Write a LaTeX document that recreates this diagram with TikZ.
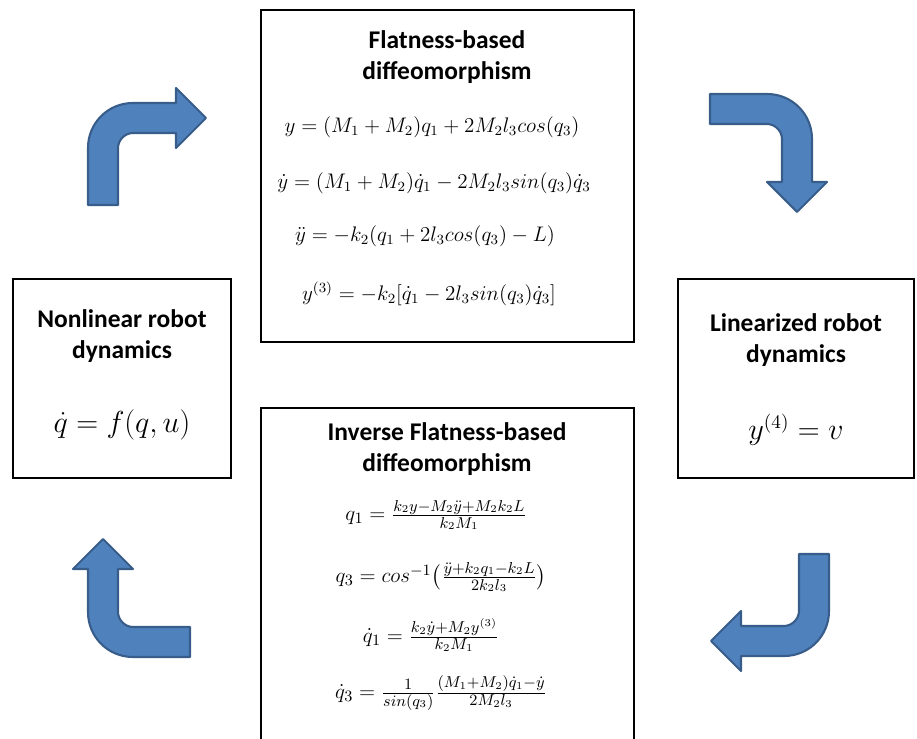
\documentclass[tikz,border=0pt]{standalone}
\usepackage{amsmath}
\usepackage{fontspec}
\setsansfont{Carlito}
\usepackage{tikz}
\usetikzlibrary{positioning}

\definecolor{arrowblue}{HTML}{4F81BD}
\definecolor{arrowedge}{HTML}{385D8A}

\tikzset{
    box/.style={draw, line width=1pt, inner sep=0pt},
    heading/.style={font=\fontsize{14.5}{17.5}\selectfont\sffamily\bfseries, align=center},
    formula/.style={font=\fontsize{11.5}{13}\selectfont},
    invformula/.style={font=\fontsize{12.5}{14}\selectfont},
    bigformula/.style={font=\fontsize{16}{19}\selectfont},
    turnarrow/.style={fill=arrowblue, draw=arrowedge, line width=1.2pt, line join=round},
    bentarrow/.pic={
        \draw[turnarrow] (0,102) -- (0,45) .. controls (0,20) and (20,0) .. (45,0)
            -- (88,0) -- (88,-15) -- (118,15) -- (88,45) -- (88,30)
            -- (45,30) .. controls (37,30) and (30,37) .. (30,45) -- (30,102) -- cycle;
    }
}

\begin{document}
\begin{tikzpicture}[x=0.02cm, y=-0.02cm]
    \useasboundingbox (0,0) rectangle (917,739);

    % the four boxes
    \node[box, minimum width=7.46cm, minimum height=6.64cm] (flat) at (447.5,176) {};
    \node[box, minimum width=7.46cm, minimum height=7.24cm] (inverse) at (447.5,589) {};
    \node[box, minimum width=4.36cm, minimum height=3.98cm] (nonlin) at (122,378.5) {};
    \node[box, minimum width=4.72cm, minimum height=3.98cm] (lin) at (796,378.5) {};

    % flatness-based diffeomorphism
    \node[heading] (flattitle) at (447,57) {Flatness-based\\diffeomorphism};
    \node[formula] (y0) at (432,127) {$y = (M_1 + M_2)q_1 + 2M_2l_3cos(q_3)$};
    \node[formula] (y1) at (434,183) {$\dot{y} = (M_1 + M_2)\dot{q}_1 - 2M_2l_3sin(q_3)\dot{q}_3$};
    \node[formula] (y2) at (425,236) {$\ddot{y} = -k_2(q_1 + 2l_3cos(q_3) - L)$};
    \node[formula] (y3) at (429,294) {$y^{(3)} = -k_2[\dot{q}_1 - 2l_3sin(q_3)\dot{q}_3]$};

    % inverse diffeomorphism
    \node[heading] (invtitle) at (447,449) {Inverse Flatness-based\\diffeomorphism};
    \node[invformula] (q1) at (436,515) {$q_1 = \tfrac{k_2y - M_2\ddot{y} + M_2k_2L}{k_2M_1}$};
    \node[invformula] (q3) at (441,577) {$q_3 = cos^{-1}\bigl(\tfrac{\ddot{y} + k_2q_1 - k_2L}{2k_2l_3}\bigr)$};
    \node[invformula] (q1d) at (431,635) {$\dot{q}_1 = \tfrac{k_2\dot{y} + M_2y^{(3)}}{k_2M_1}$};
    \node[invformula] (q3d) at (441,693) {$\dot{q}_3 = \tfrac{1}{sin(q_3)}\tfrac{(M_1 + M_2)\dot{q}_1 - \dot{y}}{2M_2l_3}$};

    % side boxes
    \node[heading] (nonlintitle) at (122,336) {Nonlinear robot\\dynamics};
    \node[bigformula] (nonlineq) at (122,425) {$\dot{q} = f(q,u)$};
    \node[heading] (lintitle) at (796,340) {Linearized robot\\dynamics};
    \node[bigformula] (lineq) at (796,430) {$y^{(4)} = v$};

    % turning arrows
    \pic at (88,103) {bentarrow};
    \pic[rotate=-90] at (812,94) {bentarrow};
    \pic[rotate=180] at (829,656) {bentarrow};
    \pic[rotate=90] at (88,657) {bentarrow};
\end{tikzpicture}
\end{document}
